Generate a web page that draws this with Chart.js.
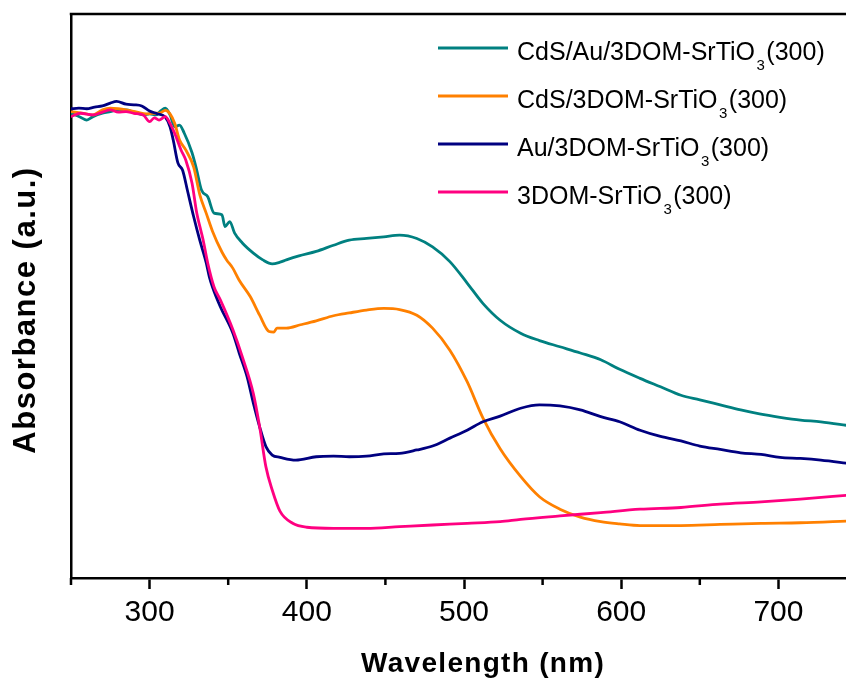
<!DOCTYPE html>
<html lang="en">
<head>
<meta charset="UTF-8">
<title>UV-vis absorbance spectra</title>
<script src="https://cdn.jsdelivr.net/npm/chart.js"></script>
<style>
  body { margin: 0; background: #fff; }
  canvas { display: block; }
</style>
</head>
<body>
<canvas id="uvvis" width="846" height="680"></canvas>
<script>
// sample names ('₃' is drawn as a subscript by the legend plugin)
const seriesLabels = [
  'CdS/Au/3DOM-SrTiO₃(300)',
  'CdS/3DOM-SrTiO₃(300)',
  'Au/3DOM-SrTiO₃(300)',
  '3DOM-SrTiO₃(300)'
];
const seriesColors = ['#008080', '#ff8000', '#000080', '#ff0080'];

// CdS/Au/3DOM-SrTiO3
const wlCdsAu = [250,256,260,264,270,275,280,285,290,296,300,304,307,310,313,316,319,322,327,330,333,337,341,346,348,351,354,359,366,372,378,383,387,395,406,417,427,438,449,459,470,480,491,502,512,523,536,548,561,574,587,599,612,625,638,650,663,676,688,701,714,727,745];
const absCdsAu = [0.824,0.817,0.812,0.818,0.824,0.827,0.830,0.830,0.826,0.821,0.823,0.821,0.828,0.833,0.821,0.800,0.803,0.789,0.754,0.723,0.688,0.676,0.647,0.644,0.623,0.632,0.612,0.594,0.576,0.564,0.557,0.560,0.564,0.571,0.579,0.590,0.599,0.602,0.605,0.608,0.602,0.587,0.561,0.523,0.487,0.457,0.434,0.421,0.410,0.399,0.387,0.370,0.354,0.339,0.324,0.316,0.307,0.298,0.291,0.285,0.280,0.277,0.270];

// CdS/3DOM-SrTiO3
const wlCds = [250,258,264,270,275,280,285,292,298,302,306,310,313,316,319,323,328,332,336,340,346,349,353,357,364,370,376,379,381,387,396,406,417,427,438,449,459,470,480,491,502,512,523,536,548,561,574,587,599,612,638,663,689,714,745];
const absCds = [0.827,0.824,0.821,0.830,0.833,0.832,0.830,0.826,0.823,0.824,0.824,0.829,0.823,0.806,0.777,0.759,0.729,0.679,0.647,0.615,0.578,0.564,0.549,0.528,0.499,0.466,0.437,0.436,0.443,0.443,0.449,0.456,0.465,0.470,0.475,0.478,0.476,0.466,0.443,0.404,0.348,0.284,0.229,0.180,0.144,0.122,0.108,0.100,0.096,0.093,0.093,0.095,0.097,0.098,0.101];

// Au/3DOM-SrTiO3
const wlAu = [250,255,260,265,270,275,279,285,290,295,300,305,310,313,315,318,321,324,328,332,336,338,340,345,353,357,362,366,370,374,378,383,393,406,417,427,438,449,459,470,480,491,502,512,523,536,548,561,574,587,599,612,625,638,650,663,676,689,701,714,727,745];
const absAu = [0.832,0.833,0.832,0.835,0.837,0.842,0.845,0.840,0.839,0.837,0.828,0.823,0.817,0.800,0.777,0.736,0.723,0.688,0.641,0.598,0.559,0.534,0.516,0.481,0.434,0.399,0.357,0.310,0.268,0.233,0.218,0.214,0.209,0.215,0.216,0.215,0.216,0.220,0.221,0.227,0.234,0.248,0.262,0.277,0.287,0.301,0.307,0.305,0.298,0.286,0.277,0.262,0.251,0.243,0.234,0.228,0.222,0.219,0.214,0.212,0.209,0.203];

// bare 3DOM-SrTiO3
const wlBare = [250,256,264,270,275,280,285,290,296,300,303,306,310,313,316,320,323,327,330,332,334,337,341,345,353,359,366,370,374,378,383,391,400,417,438,459,480,502,523,536,561,587,612,638,663,689,714,745];
const absBare = [0.818,0.824,0.821,0.826,0.830,0.826,0.827,0.824,0.821,0.809,0.816,0.812,0.818,0.806,0.788,0.759,0.741,0.700,0.647,0.623,0.600,0.558,0.516,0.493,0.440,0.392,0.327,0.268,0.197,0.156,0.118,0.097,0.090,0.088,0.088,0.091,0.094,0.097,0.100,0.104,0.110,0.116,0.122,0.125,0.131,0.135,0.140,0.147];

const majorTicks = [300, 400, 500, 600, 700];
const minorTicks = [250, 350, 450, 550, 650];
const xTitle = 'Wavelength (nm)';
const yTitle = 'Absorbance (a.u.)';

const FONT = '"Liberation Sans", Arial, Helvetica, sans-serif';

function toPoints(xs, ys) {
  return xs.map((x, i) => ({ x: x, y: ys[i] }));
}

const spectra = [
  toPoints(wlCdsAu, absCdsAu),
  toPoints(wlCds, absCds),
  toPoints(wlAu, absAu),
  toPoints(wlBare, absBare)
];

// top frame line, minor ticks and the two axis titles
const framePlugin = {
  id: 'frame',
  afterDraw(chart) {
    const { ctx, chartArea: a, scales: { x } } = chart;
    ctx.save();
    ctx.strokeStyle = '#000';
    ctx.lineWidth = 2.5;
    ctx.beginPath();
    ctx.moveTo(a.left - 1.25, a.top);
    ctx.lineTo(a.right, a.top);
    ctx.stroke();

    minorTicks.forEach(v => {
      const px = x.getPixelForValue(v);
      ctx.beginPath();
      ctx.moveTo(px, a.bottom);
      ctx.lineTo(px, a.bottom + 7);
      ctx.stroke();
    });

    ctx.fillStyle = '#000';
    ctx.textAlign = 'center';
    ctx.textBaseline = 'alphabetic';
    ctx.font = 'bold 28px ' + FONT;
    ctx.letterSpacing = '1.3px';
    ctx.fillText(xTitle, 483, 672);

    ctx.translate(35, 310);
    ctx.rotate(-Math.PI / 2);
    ctx.font = 'bold 31px ' + FONT;
    ctx.letterSpacing = '1.5px';
    ctx.fillText(yTitle, 0, 0);
    ctx.restore();
  }
};

// legend with subscripted formula
const legendPlugin = {
  id: 'subLegend',
  afterDraw(chart) {
    const ctx = chart.ctx;
    ctx.save();
    chart.data.datasets.forEach((ds, i) => {
      const y = 48 + i * 48;
      ctx.strokeStyle = ds.borderColor;
      ctx.lineWidth = 2.8;
      ctx.beginPath();
      ctx.moveTo(438, y);
      ctx.lineTo(508, y);
      ctx.stroke();

      const [head, tail] = ds.label.split('₃');
      let tx = 517;
      const base = y + 12;
      ctx.fillStyle = '#000';
      ctx.textAlign = 'left';
      ctx.textBaseline = 'alphabetic';
      ctx.font = '25px ' + FONT;
      ctx.fillText(head, tx, base);
      tx += ctx.measureText(head).width + 1.5;
      ctx.font = '15px ' + FONT;
      ctx.fillText('3', tx, base + 10);
      tx += ctx.measureText('3').width + 1.5;
      ctx.font = '25px ' + FONT;
      ctx.fillText(tail, tx, base);
    });
    ctx.restore();
  }
};

new Chart(document.getElementById('uvvis'), {
  type: 'line',
  data: {
    datasets: spectra.map((pts, i) => ({
      label: seriesLabels[i],
      data: pts,
      borderColor: seriesColors[i],
      borderWidth: 2.8,
      pointRadius: 0,
      cubicInterpolationMode: 'monotone',
      fill: false,
      order: 4 - i
    }))
  },
  options: {
    responsive: false,
    animation: false,
    devicePixelRatio: 1,
    layout: { padding: { top: 14, right: 0, left: 0, bottom: 0 } },
    plugins: { legend: { display: false }, tooltip: { enabled: false } },
    scales: {
      x: {
        type: 'linear',
        min: 250,
        max: 743,
        afterFit(scale) { scale.height = 102; },
        afterBuildTicks(scale) { scale.ticks = majorTicks.map(v => ({ value: v })); },
        ticks: {
          color: '#000',
          font: { family: FONT, size: 30 },
          padding: 6,
          maxRotation: 0
        },
        grid: {
          display: true,
          drawOnChartArea: false,
          drawTicks: true,
          tickLength: 11,
          tickWidth: 2.5,
          tickColor: '#000'
        },
        border: { display: true, color: '#000', width: 2.5 }
      },
      y: {
        type: 'linear',
        min: 0,
        max: 1,
        afterFit(scale) { scale.width = 71; },
        ticks: { display: false },
        grid: { display: false },
        border: { display: true, color: '#000', width: 2.5 }
      }
    }
  },
  plugins: [framePlugin, legendPlugin]
});
</script>
</body>
</html>
